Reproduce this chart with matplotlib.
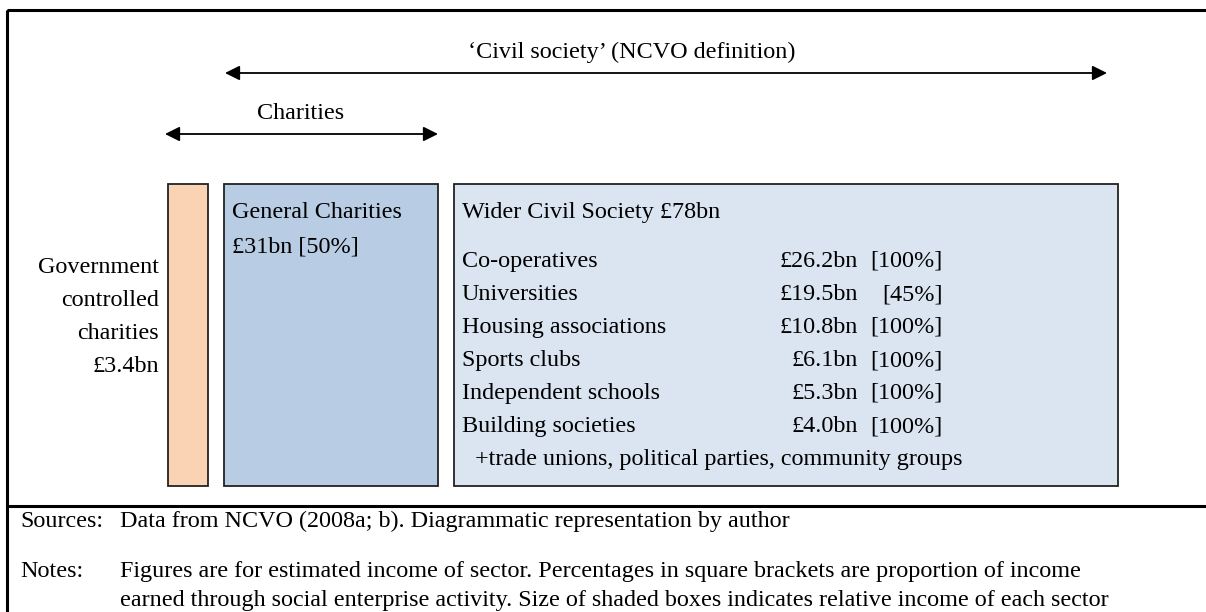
import matplotlib
matplotlib.use("Agg")
from matplotlib import pyplot as plt
from matplotlib.patches import Rectangle

plt.rcParams['font.family'] = ['Liberation Serif', 'DejaVu Serif']

# data
gov_label = ["Government", "controlled", "charities", "\u00a33.4bn"]
general_label = ["General Charities", "\u00a331bn [50%]"]
wider_title = "Wider Civil Society \u00a378bn"
sectors = ["Co-operatives", "Universities", "Housing associations",
           "Sports clubs", "Independent schools", "Building societies"]
incomes = [26.2, 19.5, 10.8, 6.1, 5.3, 4.0]
se_share = [100, 45, 100, 100, 100, 100]
extra = "+trade unions, political parties, community groups"
notes_src = "Data from NCVO (2008a; b). Diagrammatic representation by author"
notes_txt = ["Figures are for estimated income of sector. Percentages in square brackets are proportion of income",
             "earned through social enterprise activity. Size of shaded boxes indicates relative income of each sector"]

fs = 17.4
W, H = 1206, 612
fig = plt.figure(figsize=(W / 100, H / 100), dpi=100)
ax = fig.add_axes([0, 0, 1, 1])
ax.set_xlim(0, W)
ax.set_ylim(H, 0)
ax.axis("off")

def txt(x, y, s, ha="left"):
    ax.text(x, y, s, fontsize=fs, ha=ha, va="baseline")

# outer frame + divider
ax.add_patch(Rectangle((7, 10), W + 10, H, fill=False, lw=2.2, ec="black"))
ax.plot([7, W], [506, 506], color="black", lw=2.2)

# boxes
boxes = [(168, 208, "#FAD3B4"), (224, 438, "#B8CCE4"), (454, 1118, "#DBE5F1")]
for x0, x1, c in boxes:
    ax.add_patch(Rectangle((x0, 184), x1 - x0, 302, fc=c, ec="#222222", lw=1.3))

# arrows
def arrow(x0, x1, y):
    ax.annotate("", xy=(x1, y), xytext=(x0, y),
                arrowprops=dict(arrowstyle="<|-|>", color="black", lw=1.3,
                                mutation_scale=22, shrinkA=0, shrinkB=0))

arrow(225, 1107, 73)
arrow(165, 438, 134)
txt(632, 58, "\u2018Civil society\u2019 (NCVO definition)", ha="center")
txt(301, 119, "Charities", ha="center")

# government controlled
for i, s in enumerate(gov_label):
    txt(159, 273 + i * 33, s, ha="right")

for i, s in enumerate(general_label):
    txt(232, 218 + i * 35, s)

txt(462, 218, wider_title)
for i, (n, v, p) in enumerate(zip(sectors, incomes, se_share)):
    y = 267 + i * 33
    txt(462, y, n)
    txt(858, y, "\u00a3%.1fbn" % v, ha="right")
    txt(943, y, "[%d%%]" % p, ha="right")
txt(475, 267 + 6 * 33, extra)

# sources / notes
txt(20, 527, "Sources:")
txt(120, 527, notes_src)
txt(20, 577, "Notes:")
for i, s in enumerate(notes_txt):
    txt(120, 577 + i * 29, s)

fig.savefig("out.png", dpi=100)
